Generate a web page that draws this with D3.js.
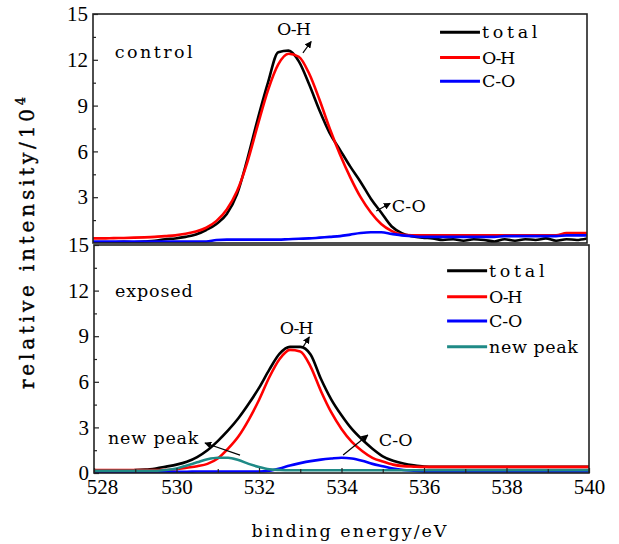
<!DOCTYPE html>
<html>
<head>
<meta charset="utf-8">
<script src="https://cdn.jsdelivr.net/npm/d3@7/dist/d3.min.js"></script>
<style>
  html, body { margin: 0; padding: 0; background: #fff; }
  svg { display: block; }
</style>
</head>
<body>
<svg id="chart" width="619" height="544"></svg>
<script>
// Binding-energy grid (eV) shared by every spectrum
const energy = [528,528.25,528.5,528.75,529,529.25,529.5,529.75,530,530.25,530.5,530.75,
  531,531.25,531.5,531.75,532,532.25,532.5,532.75,533,533.25,533.5,533.75,
  534,534.25,534.5,534.75,535,535.25,535.5,535.75,536,536.25,536.5,536.75,
  537,537.25,537.5,537.75,538,538.25,538.5,538.75,539,539.25,539.5,539.75,540];

// Control sample (intensity / 10^4)
const controlTotal = [0.05,0.05,0.05,0.08,0.05,0.1,0.15,0.25,0.3,0.4,0.55,0.85,
  1.25,1.9,3.2,5.5,8.1,10.5,12.5,12.6,11.9,10.4,8.7,7.2,
  6.1,5.0,4.0,2.9,2.0,1.1,0.65,0.45,0.35,0.3,0.2,0.25,
  0.15,0.25,0.2,0.1,0.25,0.15,0.25,0.2,0.3,0.15,0.25,0.2,0.3];
const controlOH = [0.3,0.3,0.32,0.33,0.35,0.37,0.4,0.45,0.5,0.6,0.75,1.0,
  1.45,2.2,3.4,5.3,7.7,10.0,11.7,12.4,12.2,11.1,9.4,7.5,
  5.8,4.3,3.0,2.0,1.25,0.8,0.55,0.5,0.5,0.5,0.5,0.5,
  0.5,0.5,0.5,0.5,0.5,0.5,0.5,0.5,0.5,0.5,0.65,0.65,0.65];
const controlCO = [0.1,0.1,0.1,0.1,0.1,0.1,0.1,0.1,0.1,0.1,0.1,0.1,
  0.2,0.22,0.22,0.22,0.22,0.22,0.22,0.25,0.28,0.3,0.35,0.4,
  0.45,0.55,0.65,0.7,0.7,0.6,0.5,0.45,0.4,0.4,0.4,0.4,
  0.4,0.4,0.4,0.4,0.45,0.45,0.45,0.45,0.45,0.45,0.5,0.5,0.5];

// Exposed sample (intensity / 10^4)
const exposedTotal = [0.15,0.15,0.15,0.15,0.2,0.22,0.3,0.42,0.55,0.74,1.05,1.5,
  2.1,2.8,3.6,4.55,5.6,6.8,7.85,8.3,8.3,7.8,6.2,4.85,
  3.8,2.9,2.2,1.6,1.1,0.8,0.62,0.5,0.42,0.4,0.4,0.4,
  0.4,0.4,0.4,0.4,0.4,0.4,0.4,0.4,0.4,0.4,0.4,0.4,0.4];
const exposedOH = [0.2,0.2,0.2,0.2,0.2,0.2,0.2,0.2,0.25,0.35,0.45,0.6,
  0.95,1.6,2.4,3.5,4.8,6.3,7.5,8.1,8.0,7.0,5.4,4.0,
  2.9,2.05,1.45,1.0,0.75,0.55,0.45,0.42,0.4,0.4,0.4,0.4,
  0.4,0.4,0.4,0.4,0.4,0.4,0.4,0.4,0.4,0.4,0.4,0.4,0.4];
const exposedCO = [0.05,0.05,0.05,0.05,0.05,0.05,0.08,0.08,0.08,0.08,0.1,0.1,
  0.1,0.1,0.1,0.1,0.1,0.15,0.3,0.5,0.65,0.78,0.88,0.95,
  1.0,0.95,0.8,0.6,0.45,0.3,0.2,0.15,0.1,0.1,0.1,0.1,
  0.1,0.1,0.1,0.1,0.1,0.1,0.1,0.1,0.1,0.1,0.1,0.1,0.1];
const exposedNew = [0.15,0.15,0.15,0.15,0.15,0.15,0.15,0.2,0.3,0.5,0.7,0.9,
  1.0,1.0,0.85,0.6,0.4,0.25,0.2,0.18,0.18,0.18,0.18,0.18,
  0.18,0.18,0.18,0.18,0.18,0.18,0.18,0.18,0.18,0.18,0.18,0.18,
  0.18,0.18,0.18,0.18,0.18,0.18,0.18,0.18,0.18,0.18,0.18,0.18,0.18];

// Axis tick labels
const xTicks = [528, 530, 532, 534, 536, 538, 540];
const yTicksTop = [3, 6, 9, 12, 15];
const yTicksBottom = [0, 3, 6, 9, 12, 15];

const colors = { total: "#000000", oh: "#ff0000", co: "#0000ff", np: "#1f8a86" };
const serif = "'Liberation Serif', 'Times New Roman', serif";
const labelFont = "'DejaVu Serif', serif";

const svg = d3.select("#chart");
svg.append("rect").attr("width", 619).attr("height", 544).attr("fill", "#fff");

svg.append("defs").append("marker")
  .attr("id", "arrowHead").attr("viewBox", "0 0 10 10")
  .attr("refX", 9).attr("refY", 5)
  .attr("markerWidth", 7).attr("markerHeight", 7)
  .attr("markerUnits", "userSpaceOnUse")
  .attr("orient", "auto")
  .append("path").attr("d", "M0,0 L10,5 L0,10 Z").attr("fill", "#000");

// label drawn with a fixed advance per character (monospaced look)
function monoText(g, x, y, str, adv, size) {
  return g.append("text")
    .attr("x", x).attr("y", y)
    .attr("font-family", labelFont).attr("font-size", size || 17.5)
    .attr("textLength", str.length * adv).attr("lengthAdjust", "spacing")
    .attr("fill", "#000").text(str);
}

function panel(cfg) {
  const x = d3.scaleLinear().domain([528, 540]).range([cfg.left, cfg.right]);
  const y = d3.scaleLinear().domain([0, 15]).range([cfg.bottom, cfg.top]);
  const g = svg.append("g");

  const clipId = "clip-" + cfg.name;
  g.append("clipPath").attr("id", clipId).append("rect")
    .attr("x", cfg.left).attr("y", cfg.top)
    .attr("width", cfg.right - cfg.left).attr("height", cfg.bottom - cfg.top);

  const line = d3.line().x((d, i) => x(energy[i])).y(d => y(d)).curve(d3.curveMonotoneX);
  const plot = g.append("g").attr("clip-path", `url(#${clipId})`);
  cfg.series.forEach(s => {
    plot.append("path").datum(s.values)
      .attr("fill", "none").attr("stroke", s.color)
      .attr("stroke-width", 2.6).attr("stroke-linejoin", "round")
      .attr("d", line);
  });

  // frame
  g.append("rect")
    .attr("x", cfg.left).attr("y", cfg.top)
    .attr("width", cfg.right - cfg.left).attr("height", cfg.bottom - cfg.top)
    .attr("fill", "none").attr("stroke", "#222").attr("stroke-width", 1.6);

  // left axis: major ticks with labels, minor ticks between
  const yAxis = g.append("g").attr("transform", `translate(${cfg.left},0)`)
    .call(d3.axisLeft(y).tickValues(cfg.yTicks).tickSize(-5).tickPadding(5).tickFormat(d3.format("d")));
  yAxis.select(".domain").remove();
  yAxis.selectAll("line").attr("stroke", "#222").attr("stroke-width", 1.2);
  yAxis.selectAll("text").attr("font-family", serif).attr("font-size", 21).attr("fill", "#000");

  const yMinor = g.append("g").attr("transform", `translate(${cfg.left},0)`)
    .call(d3.axisLeft(y).tickValues([1.5, 4.5, 7.5, 10.5, 13.5]).tickSize(-3).tickFormat(""));
  yMinor.select(".domain").remove();
  yMinor.selectAll("line").attr("stroke", "#222").attr("stroke-width", 1.2);

  if (cfg.showX) {
    const xAxis = g.append("g").attr("transform", `translate(0,${cfg.bottom})`)
      .call(d3.axisBottom(x).tickValues(xTicks).tickSize(-5).tickPadding(6).tickFormat(d3.format("d")));
    xAxis.select(".domain").remove();
    xAxis.selectAll("line").attr("stroke", "#222").attr("stroke-width", 1.2);
    xAxis.selectAll("text").attr("font-family", serif).attr("font-size", 21).attr("fill", "#000");
    // first label sits clear of the "0" on the value axis
    xAxis.selectAll("text").filter(d => d === 528).attr("dx", 8);
    const xMinor = g.append("g").attr("transform", `translate(0,${cfg.bottom})`)
      .call(d3.axisBottom(x).tickValues([529, 531, 533, 535, 537, 539]).tickSize(-4).tickFormat(""));
    xMinor.select(".domain").remove();
    xMinor.selectAll("line").attr("stroke", "#222").attr("stroke-width", 1.2);
  }

  // sample name
  monoText(g, x(cfg.nameAt[0]), y(cfg.nameAt[1]), cfg.name, 11.1);

  // legend
  cfg.legend.forEach((d, i) => {
    const ly = y(cfg.legendY[i]);
    g.append("line")
      .attr("x1", x(cfg.legendX[0])).attr("x2", x(cfg.legendX[1]))
      .attr("y1", ly).attr("y2", ly)
      .attr("stroke", d.color).attr("stroke-width", 3);
    monoText(g, x(cfg.legendX[1]) + 2, ly + 6, d.label, 11.1);
  });

  // peak annotations
  cfg.notes.forEach(n => {
    monoText(g, x(n.at[0]), y(n.at[1]), n.text, 11.3);
    g.append("line")
      .attr("x1", x(n.from[0])).attr("y1", y(n.from[1]))
      .attr("x2", x(n.to[0])).attr("y2", y(n.to[1]))
      .attr("stroke", "#000").attr("stroke-width", 1.2)
      .attr("marker-end", "url(#arrowHead)");
  });
}

panel({
  name: "control", left: 93, right: 587, top: 14, bottom: 243,
  yTicks: yTicksTop, showX: false, nameAt: [528.53, 12.1],
  series: [
    { values: controlTotal, color: colors.total },
    { values: controlOH, color: colors.oh },
    { values: controlCO, color: colors.co }
  ],
  legend: [
    { label: "total", color: colors.total },
    { label: "O-H", color: colors.oh },
    { label: "C-O", color: colors.co }
  ],
  legendX: [536.43, 537.4], legendY: [13.8, 12.15, 10.6],
  notes: [
    { text: "O-H", at: [532.47, 13.6], from: [533.1, 12.45], to: [533.3, 13.2] },
    { text: "C-O", at: [535.26, 2.0], from: [534.88, 2.1], to: [535.22, 2.6] }
  ]
});

panel({
  name: "exposed", left: 94, right: 589, top: 245, bottom: 473,
  yTicks: yTicksBottom, showX: true, nameAt: [528.51, 11.6],
  series: [
    { values: exposedTotal, color: colors.total },
    { values: exposedOH, color: colors.oh },
    { values: exposedCO, color: colors.co },
    { values: exposedNew, color: colors.np }
  ],
  legend: [
    { label: "total", color: colors.total },
    { label: "O-H", color: colors.oh },
    { label: "C-O", color: colors.co },
    { label: "new peak", color: colors.np }
  ],
  legendX: [536.56, 537.53], legendY: [13.3, 11.6, 10.0, 8.3],
  notes: [
    { text: "O-H", at: [532.5, 9.15], from: [533.07, 8.3], to: [533.22, 8.95] },
    { text: "C-O", at: [534.9, 1.78], from: [534.04, 1.18], to: [534.64, 2.5] },
    { text: "new peak", at: [528.34, 1.9], from: [531.54, 1.18], to: [530.69, 1.97] }
  ]
});

// axis titles
svg.append("text")
  .attr("x", 349).attr("y", 537)
  .attr("text-anchor", "middle")
  .attr("font-family", labelFont).attr("font-size", 17.5)
  .attr("textLength", 195).attr("lengthAdjust", "spacing")
  .text("binding energy/eV");

const yTitle = svg.append("text")
  .attr("transform", "translate(34,243) rotate(-90)")
  .attr("text-anchor", "middle")
  .attr("font-family", labelFont).attr("font-size", 20)
  .attr("stroke", "#000").attr("stroke-width", 0.4)
  .attr("textLength", 292).attr("lengthAdjust", "spacing");
yTitle.append("tspan").text("relative intensity/10");
yTitle.append("tspan").attr("dy", -9).attr("font-size", 13).text("4");
</script>
</body>
</html>
